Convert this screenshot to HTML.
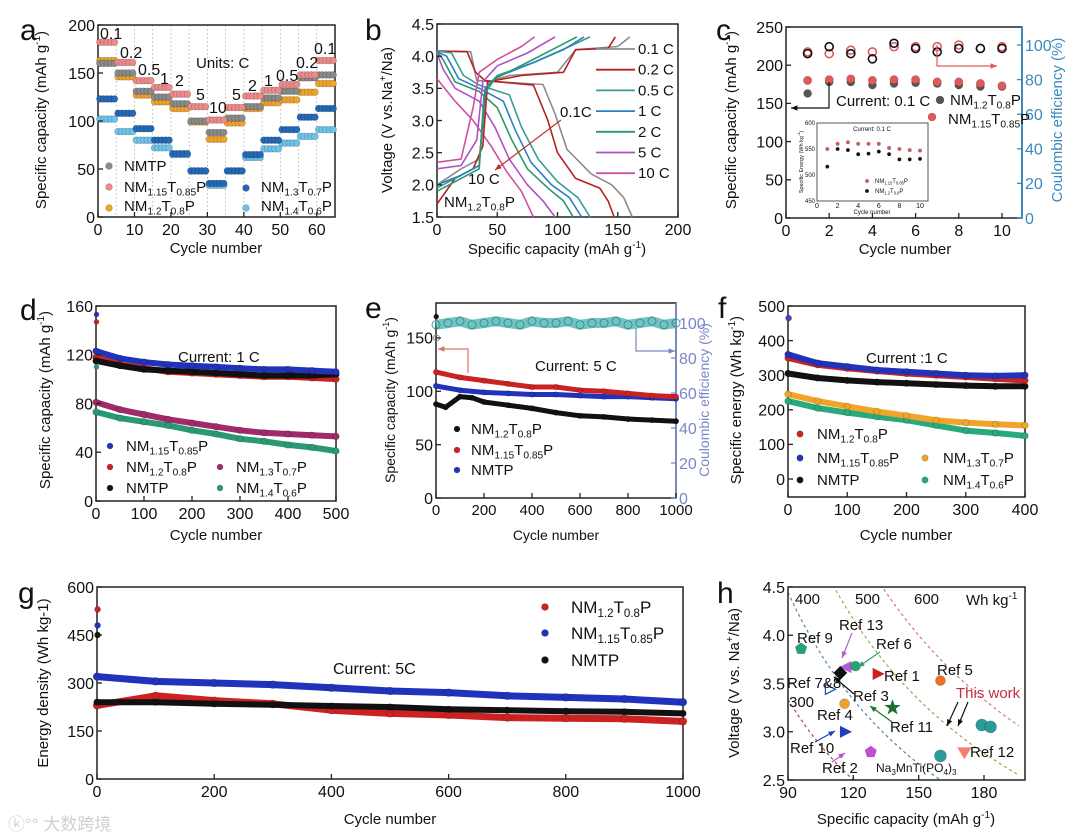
<!DOCTYPE html>
<html><head><meta charset="utf-8">
<style>
html,body{margin:0;padding:0;background:#fff;}
svg{display:block;font-family:"Liberation Sans","Noto Sans CJK SC",sans-serif;}
</style></head>
<body>
<svg id="fig" width="1080" height="836" viewBox="0 0 1080 836" xmlns="http://www.w3.org/2000/svg"></svg>
<script>
// ---------- Panel a data (rate capability) ----------
const aRates = ['0.1','0.2','0.5','1','2','5','10','5','2','1','0.5','0.2','0.1'];
const aNM115 = [182,161,142,135,128,115,101,114,126,132,138,148,163];
const aNMTP  = [160,150,131,125,118,100,88,103,115,124,131,145,148];
const aNM12  = [163,146,127,120,113,99,81,98,113,119,122,130,139];
const aNM13  = [123,108,92,80,66,48,35,48,65,80,91,104,113];
const aNM14  = [102,89,80,72,65,48,33,48,62,71,77,84,91];
const aXTicks = [0,10,20,30,40,50,60];
const aYTicks = [0,50,100,150,200];
// ---------- Panel b data (charge/discharge) ----------
const bRates = ['0.1 C','0.2 C','0.5 C','1 C','2 C','5 C','10 C'];
const bDis = [
 [[0,4.08],[28,4.07],[33,3.62],[88,3.56],[98,3.1],[108,2.55],[128,2.17],[145,2.0],[155,1.8],[162,1.5]],
 [[0,4.08],[25,4.07],[32,3.75],[40,3.62],[80,3.55],[92,3.0],[100,2.5],[115,2.1],[135,1.95],[142,1.75],[147,1.5]],
 [[0,4.08],[12,4.05],[22,3.7],[35,3.55],[60,3.4],[70,2.9],[84,2.4],[100,2.05],[117,1.8],[127,1.5]],
 [[0,4.07],[8,4.0],[18,3.65],[35,3.5],[55,3.3],[65,2.85],[78,2.35],[95,2.0],[110,1.8],[120,1.5]],
 [[0,4.07],[5,3.95],[15,3.6],[35,3.45],[50,3.2],[62,2.7],[75,2.25],[92,1.95],[105,1.75],[113,1.5]],
 [[0,4.05],[5,3.8],[15,3.5],[35,3.3],[48,2.9],[60,2.4],[75,2.0],[88,1.75],[98,1.5]],
 [[0,3.65],[15,3.3],[30,3.0],[45,2.6],[58,2.2],[70,1.9],[80,1.5]]
];
const bChg = [
 [[0,2.0],[20,2.25],[35,2.4],[42,3.6],[60,3.7],[100,3.75],[115,4.1],[150,4.15],[160,4.3]],
 [[0,1.7],[15,2.1],[30,2.25],[38,2.6],[42,3.6],[70,3.7],[105,3.75],[115,4.1],[142,4.12],[148,4.3]],
 [[0,1.95],[20,2.15],[35,2.3],[40,3.5],[50,3.7],[80,3.9],[110,4.15],[127,4.3]],
 [[0,2.0],[20,2.15],[35,2.3],[40,3.5],[50,3.68],[80,3.9],[105,4.1],[122,4.3]],
 [[0,1.9],[20,2.1],[35,2.25],[39,3.4],[48,3.65],[80,3.95],[116,4.3]],
 [[0,2.25],[20,2.3],[33,2.7],[38,3.6],[50,3.85],[75,4.05],[98,4.3]],
 [[0,2.35],[20,2.4],[30,3.2],[35,3.75],[50,3.95],[70,4.15],[81,4.3]]
];
const bXTicks = [0,50,100,150,200];
const bYTicks = [1.5,2.0,2.5,3.0,3.5,4.0,4.5];
// ---------- Panel c data ----------
const cCycles = [1,2,3,4,5,6,7,8,9,10];
const cCap12  = [163,178,178,174,176,177,176,174,172,172];
const cCap115 = [180,181,182,180,181,181,178,178,176,173];
const cCE12   = [95,99,95,92,101,98,96,98,98,98];
const cCE115  = [96,95,97,96,99,99,99,100,98,99];
const cIns115 = [550,560,563,560,560,560,552,550,548,547];
const cIns12  = [516,550,548,540,541,545,540,530,530,531];
const cXTicks = [0,2,4,6,8,10];
const cYTicks = [0,50,100,150,200,250];
const cY2Ticks = [0,20,40,60,80,100];
// ---------- Panel d data ----------
const dCycles = [0,50,100,150,200,250,300,350,400,450,500];
const dNM115 = [123,117,114,112,111,110,109,108,108,107,106];
const dNM12  = [118,112,109,106,105,104,103,102,102,101,100];
const dNMTP  = [115,111,108,107,106,105,104,103,103,103,104];
const dNM13  = [81,75,71,67,64,61,58,56,55,54,53];
const dNM14  = [73,68,65,62,58,55,51,49,46,44,41];
const dXTicks = [0,100,200,300,400,500];
const dYTicks = [0,40,80,120,160];
// ---------- Panel e data ----------
const eCycles = [0,100,200,300,400,500,600,700,800,900,1000];
const eNM115 = [118,113,110,107,104,104,101,100,98,96,95];
const eNMTP  = [105,101,99,98,97,97,96,95,95,94,93];
const eBlkCycles = [0,40,100,150,200,300,400,500,600,700,800,900,1000];
const eNM12  = [88,85,95,94,90,87,84,80,77,76,74,73,72];
const eCECycles = [0,50,100,150,200,250,300,350,400,450,500,550,600,650,700,750,800,850,900,950,1000];
const eCE = [99,100,101,99,100,101,100,99,101,100,100,101,99,100,100,101,99,100,101,99,100];
const eXTicks = [0,200,400,600,800,1000];
const eYTicks = [0,50,100,150];
const eY2Ticks = [0,20,40,60,80,100];
// ---------- Panel f data ----------
const fCycles = [0,50,100,150,200,250,300,350,400];
const fNM115 = [360,335,325,315,310,305,300,298,300];
const fNM12  = [350,330,320,312,305,300,295,290,285];
const fNMTP  = [305,292,285,280,277,273,270,268,268];
const fNM13  = [245,225,210,195,183,170,163,158,155];
const fNM14  = [225,205,192,180,170,155,140,133,125];
const fXTicks = [0,100,200,300,400];
const fYTicks = [0,100,200,300,400,500];
// ---------- Panel g data ----------
const gCycles = [0,100,200,300,400,500,600,700,800,900,1000];
const gNM115 = [320,305,300,295,285,275,270,260,255,250,240];
const gNMTP  = [240,240,235,232,228,225,218,215,212,210,205];
const gNM12  = [230,260,245,235,215,205,200,192,190,188,180];
const gXTicks = [0,200,400,600,800,1000];
const gYTicks = [0,150,300,450,600];
// ---------- Panel h data ----------
const hRefs = ['Ref 9','Ref 13','Ref 6','Ref 7&8','Ref 3','Ref 1','Ref 5','Ref 4','Ref 11','Ref 10','Ref 2','Na3MnTi(PO4)3','Ref 12','This work','This work'];
const hCap  = [96,117,121,109,114,131,160,116,138,116,128,160,171,179,183];
const hVolt = [3.86,3.67,3.68,3.44,3.61,3.6,3.53,3.29,3.25,3.0,2.79,2.75,2.79,3.07,3.05];
const hEnergies = [300,400,500,600];
const hXTicks = [90,120,150,180];
const hYTicks = [2.5,3.0,3.5,4.0,4.5];

const NS='http://www.w3.org/2000/svg';
const svg=document.getElementById('fig');
function mk(tag,attrs,name,text){
  const el=document.createElementNS(NS,tag);
  for(const k in attrs) el.setAttribute(k,attrs[k]);
  
  
  if(text!=null) el.textContent=text;
  svg.appendChild(el);
  return el;
}
function sub(s){
  return s.replace(/_\{([^}]*)\}/g,'<tspan font-size="0.68em" dy="0.35em">$1</tspan><tspan font-size="0.68em" dy="-0.35em">\u200b</tspan>');
}
function chem(x,y,s,size,name,fill){
  const t=mk('text',{x:x,y:y,'font-size':size,fill:fill||'#111'},name);
  t.innerHTML=sub(s); return t;
}
function txt(x,y,s,size,name,extra){
  const a={x:x,y:y,'font-size':size,fill:'#111'};
  if(extra) for(const k in extra) a[k]=extra[k];
  return mk('text',a,name,s);
}
function frame(x0,y0,x1,y1,name,rightColor){
  mk('rect',{x:x0,y:y0,width:x1-x0,height:y1-y0,fill:'none',stroke:'#222','stroke-width':1.5},name);
  if(rightColor) mk('line',{x1:x1,y1:y0,x2:x1,y2:y1,stroke:rightColor,'stroke-width':1.8},name+'-right-axis');
}
function xAxis(ticks,X,yb,size,name,fmt){
  ticks.forEach(v=>{
    mk('line',{x1:X(v),y1:yb,x2:X(v),y2:yb-5,stroke:'#222','stroke-width':1.3},name+'-tick');
    txt(X(v),yb+size+2,fmt?fmt(v):String(v),size,name+'-label',{'text-anchor':'middle'});
  });
}
function yAxis(ticks,Y,xl,size,name,fmt){
  ticks.forEach(v=>{
    mk('line',{x1:xl,y1:Y(v),x2:xl+5,y2:Y(v),stroke:'#222','stroke-width':1.3},name+'-tick');
    txt(xl-3,Y(v)+size*0.36,fmt?fmt(v):String(v),size,name+'-label',{'text-anchor':'end'});
  });
}
function y2Axis(ticks,Y,xr,size,name,color){
  ticks.forEach(v=>{
    mk('line',{x1:xr,y1:Y(v),x2:xr-5,y2:Y(v),stroke:color,'stroke-width':1.3},name+'-tick');
    txt(xr+3,Y(v)+size*0.36,String(v),size,name+'-label',{fill:color});
  });
}
function vtitle(x,y,s,size,name,fill){
  const t=mk('text',{x:0,y:0,'font-size':size,fill:fill||'#111','text-anchor':'middle',transform:`translate(${x},${y}) rotate(-90)`},name);
  t.innerHTML=s; return t;
}
function ball(x,y,r,color,name){
  mk('circle',{cx:x,cy:y,r:r,fill:color,stroke:'rgba(0,0,0,0.25)','stroke-width':0.6},name);
}
function dense(xs,ys,X,Y,color,w,name){
  const pts=xs.map((c,i)=>X(c).toFixed(1)+','+Y(ys[i]).toFixed(1)).join(' ');
  mk('polyline',{points:pts,fill:'none',stroke:color,'stroke-width':w,'stroke-linejoin':'round','stroke-linecap':'round'},name);
  xs.forEach((c,i)=>ball(X(c),Y(ys[i]),w*0.55,color,name+'-point'));
}
function poly(arr,X,Y,color,name,w){
  const pts=arr.map(p=>X(p[0]).toFixed(1)+','+Y(p[1]).toFixed(1)).join(' ');
  mk('polyline',{points:pts,fill:'none',stroke:color,'stroke-width':w||1.6,'stroke-linejoin':'round'},name);
}
function arrow(pts,color,name){
  mk('polyline',{points:pts.map(p=>p.join(',')).join(' '),fill:'none',stroke:color,'stroke-width':1.2},name);
  const n=pts.length,a=pts[n-2],b=pts[n-1];
  const ang=Math.atan2(b[1]-a[1],b[0]-a[0]);
  const p1=[b[0]-7*Math.cos(ang-0.4),b[1]-7*Math.sin(ang-0.4)],p2=[b[0]-7*Math.cos(ang+0.4),b[1]-7*Math.sin(ang+0.4)];
  mk('polygon',{points:[b,p1,p2].map(p=>p.join(',')).join(' '),fill:color},name+'-head');
}
const TS=16, TT=15;

// ================= Panel a =================
(function(){
  const X=c=>98+c*(335-98)/65, Y=v=>217-v*(192/200);
  for(let k=1;k<13;k++) mk('line',{x1:X(k*5),y1:25,x2:X(k*5),y2:217,stroke:'#aaa','stroke-width':0.8,'stroke-dasharray':'1.5,2.5'},'a-divider');
  frame(98,25,335,217,'a-plot-frame');
  const series=[[aNM14,'#6ec3ea','a-nm14'],[aNM13,'#2369b8','a-nm13'],[aNM12,'#f0a52a','a-nm12'],[aNMTP,'#8a8a8a','a-nmtp'],[aNM115,'#ef8a8a','a-nm115']];
  series.forEach(s=>{
    s[0].forEach((v,seg)=>{ for(let j=1;j<=5;j++){ ball(X(seg*5+j-0.5),Y(v),3.4,s[1],s[2]+'-marker'); } });
  });
  xAxis(aXTicks,X,217,TS,'a-x-tick'); yAxis(aYTicks,Y,98,TS,'a-y-tick');
  const lab=[[100,33],[120,52],[138,69],[160,78],[175,80],[196,94],[209,107],[232,94],[248,85],[264,80],[276,75],[296,62],[314,48]];
  aRates.forEach((r,i)=>txt(lab[i][0],lab[i][1]+6,r,16,'a-rate-label'));
  txt(196,68,'Units: C',15,'a-units-note');
  txt(216,253,'Cycle number',TT,'a-x-title',{'text-anchor':'middle'});
  vtitle(46,120,'Specific capacity (mAh g<tspan font-size="10" dy="-6">-1</tspan><tspan dy="6">)</tspan>',TT,'a-y-title');
  txt(20,40,'a',30,'a-panel-letter');
  ball(109,166,3.4,'#8a8a8a','a-legend-marker'); txt(124,171,'NMTP',15,'a-legend-nmtp');
  ball(109,187,3.4,'#ef8a8a','a-legend-marker'); chem(124,192,'NM_{1.15}T_{0.85}P',15,'a-legend-nm115');
  ball(109,208,3.4,'#f0a52a','a-legend-marker'); chem(124,211,'NM_{1.2}T_{0.8}P',15,'a-legend-nm12');
  ball(246,188,3.4,'#2369b8','a-legend-marker'); chem(261,192,'NM_{1.3}T_{0.7}P',15,'a-legend-nm13');
  ball(246,208,3.4,'#6ec3ea','a-legend-marker'); chem(261,211,'NM_{1.4}T_{0.6}P',15,'a-legend-nm14');
})();

// ================= Panel b =================
(function(){
  const X=c=>437+c*(241/200), Y=v=>217-(v-1.5)*(193/3);
  const cols=['#8c8c8c','#b52020','#3a9a9a','#2f7fbf','#2a9a6a','#b050c8','#d050a0'];
  frame(437,24,678,217,'b-plot-frame');
  bDis.forEach((c,i)=>poly(c,X,Y,cols[i],'b-discharge-curve'));
  bChg.forEach((c,i)=>poly(c,X,Y,cols[i],'b-charge-curve'));
  xAxis(bXTicks,X,217,TS,'b-x-tick'); yAxis(bYTicks,Y,437,TS,'b-y-tick',v=>v.toFixed(1));
  bRates.forEach((r,i)=>{const y=49+i*20.7;
    mk('line',{x1:596,y1:y,x2:635,y2:y,stroke:cols[i],'stroke-width':1.8},'b-legend-line');
    txt(638,y+5,r,15,'b-legend-label');});
  arrow([[561,120],[495,170]],'#c03030','b-rate-arrow');
  txt(560,117,'0.1C',15,'b-annot-01c'); txt(468,184,'10 C',15,'b-annot-10c');
  chem(444,207,'NM_{1.2}T_{0.8}P',15,'b-sample-label');
  txt(557,254,'',TT,'b-x-title',{'text-anchor':'middle'}).innerHTML='Specific capacity (mAh g<tspan font-size="10" dy="-6">-1</tspan><tspan dy="6">)</tspan>';
  vtitle(392,120,'Voltage (V vs.Na<tspan font-size="10" dy="-6">+</tspan><tspan dy="6">/Na)</tspan>',TT,'b-y-title');
  txt(365,40,'b',30,'b-panel-letter');
})();

// ================= Panel c =================
(function(){
  const X=c=>786+c*21.6, Y=v=>218-v*(191/250), Y2=p=>218-p*1.73;
  frame(786,27,1022,218,'c-plot-frame','#3a8ac0');
  cCycles.forEach((c,i)=>{
    mk('circle',{cx:X(c),cy:Y2(cCE115[i]),r:4,fill:'none',stroke:'#e05a5a','stroke-width':1.6},'c-ce-nm115');
    mk('circle',{cx:X(c),cy:Y2(cCE12[i]),r:4,fill:'none',stroke:'#111','stroke-width':1.6},'c-ce-nm12');
    ball(X(c),Y(cCap12[i]),4,'#555','c-cap-nm12');
    ball(X(c),Y(cCap115[i]),4.2,'#e05a5a','c-cap-nm115');
  });
  xAxis(cXTicks,X,218,TS,'c-x-tick'); yAxis(cYTicks,Y,786,TS,'c-y-tick');
  y2Axis(cY2Ticks,Y2,1022,TS,'c-y2-tick','#3a8ac0');
  arrow([[829,82],[829,108],[791,108]],'#111','c-left-axis-arrow');
  arrow([[937,45],[937,66],[997,66]],'#e05a5a','c-right-axis-arrow');
  txt(836,106,'Current: 0.1 C',15,'c-current-note');
  ball(940,100,4,'#555','c-legend-marker'); chem(950,105,'NM_{1.2}T_{0.8}P',15,'c-legend-nm12');
  ball(932,117,4,'#e05a5a','c-legend-marker'); chem(948,124,'NM_{1.15}T_{0.85}P',15,'c-legend-nm115');
  const IX=c=>817+c*10.3, IY=v=>201-(v-450)*(78/150);
  mk('rect',{x:817,y:123,width:111,height:78,fill:'#fff',stroke:'#555','stroke-width':1},'c-inset-frame');
  cCycles.forEach((c,i)=>{ ball(IX(c),IY(cIns115[i]),1.8,'#e05a5a','c-inset-nm115'); ball(IX(c),IY(cIns12[i]),1.8,'#111','c-inset-nm12'); });
  [0,2,4,6,8,10].forEach(v=>txt(IX(v),208,String(v),7,'c-inset-x-label',{'text-anchor':'middle'}));
  [450,500,550,600].forEach(v=>txt(815,IY(v)+2,String(v),6,'c-inset-y-label',{'text-anchor':'end'}));
  txt(872,131,'Current: 0.1 C',6,'c-inset-note',{'text-anchor':'middle'});
  txt(872,214,'Cycle number',6,'c-inset-x-title',{'text-anchor':'middle'});
  vtitle(803,162,'Specific Energy (Wh kg<tspan font-size="4" dy="-3">-1</tspan><tspan dy="3">)</tspan>',5.5,'c-inset-y-title');
  ball(867,181,1.8,'#e05a5a','c-inset-legend'); chem(875,183,'NM_{1.15}T_{0.85}P',6,'c-inset-legend-nm115');
  ball(867,191,1.8,'#111','c-inset-legend'); chem(875,193,'NM_{1.2}T_{0.8}P',6,'c-inset-legend-nm12');
  txt(905,254,'Cycle number',TT,'c-x-title',{'text-anchor':'middle'});
  vtitle(736,120,'Specific capacity (mAh g<tspan font-size="10" dy="-6">-1</tspan><tspan dy="6">)</tspan>',TT,'c-y-title');
  vtitle(1062,120,'Coulombic efficiency (%)',TT,'c-y2-title','#3a8ac0');
  txt(716,40,'c',30,'c-panel-letter');
})();

// ================= Panel d =================
(function(){
  const X=c=>96+c*0.48, Y=v=>501-v*(195/160);
  frame(96,306,336,501,'d-plot-frame');
  dense(dCycles,dNM14,X,Y,'#2a9a72',6,'d-nm14');
  dense(dCycles,dNM13,X,Y,'#a02a6a',6,'d-nm13');
  dense(dCycles,dNM12,X,Y,'#cc2222',6,'d-nm12');
  dense(dCycles,dNMTP,X,Y,'#111',6,'d-nmtp');
  dense(dCycles,dNM115,X,Y,'#2233bb',6,'d-nm115');
  ball(X(1),Y(153),2.5,'#2233bb','d-first-point'); ball(X(1),Y(147),2.5,'#cc2222','d-first-point'); ball(X(1),Y(110),2.5,'#2a9a72','d-first-point');
  xAxis(dXTicks,X,501,TS,'d-x-tick'); yAxis(dYTicks,Y,96,TS,'d-y-tick');
  txt(178,362,'Current: 1 C',15,'d-current-note');
  ball(110,446,3,'#2233bb','d-legend-marker'); chem(126,451,'NM_{1.15}T_{0.85}P',15,'d-legend-nm115');
  ball(110,467,3,'#cc2222','d-legend-marker'); chem(126,472,'NM_{1.2}T_{0.8}P',15,'d-legend-nm12');
  ball(110,488,3,'#111','d-legend-marker'); txt(126,493,'NMTP',15,'d-legend-nmtp');
  ball(220,467,3,'#a02a6a','d-legend-marker'); chem(236,472,'NM_{1.3}T_{0.7}P',15,'d-legend-nm13');
  ball(220,488,3,'#2a9a72','d-legend-marker'); chem(236,493,'NM_{1.4}T_{0.6}P',15,'d-legend-nm14');
  txt(216,540,'Cycle number',TT,'d-x-title',{'text-anchor':'middle'});
  vtitle(50,400,'Specific capacity (mAh g<tspan font-size="10" dy="-6">-1</tspan><tspan dy="6">)</tspan>',TT,'d-y-title');
  txt(20,320,'d',30,'d-panel-letter');
})();

// ================= Panel e =================
(function(){
  const X=c=>436+c*0.24, Y=v=>498-v*1.067, Y2=p=>498-p*1.75;
  const rc='#7a86c8';
  frame(436,303,676,498,'e-plot-frame',rc);
  const cePts=eCECycles.map((c,i)=>X(c).toFixed(1)+','+Y2(eCE[i]).toFixed(1)).join(' ');
  mk('polyline',{points:cePts,fill:'none',stroke:'#5ab8b8','stroke-width':10,opacity:0.85},'e-ce-band');
  eCECycles.forEach((c,i)=>mk('circle',{cx:X(c),cy:Y2(eCE[i]),r:4,fill:'none',stroke:'#2a8a8a','stroke-width':0.8},'e-ce-marker'));
  dense(eBlkCycles,eNM12,X,Y,'#111',5,'e-nm12');
  dense(eCycles,eNMTP,X,Y,'#2233bb',5,'e-nmtp');
  dense(eCycles,eNM115,X,Y,'#cc2222',5,'e-nm115');
  ball(X(1),Y(170),2.5,'#111','e-first-point');
  mk('circle',{cx:X(2),cy:Y(150),r:3,fill:'none',stroke:'#888'},'e-first-ce');
  xAxis(eXTicks,X,498,TS-1,'e-x-tick'); yAxis(eYTicks,Y,436,TS,'e-y-tick');
  y2Axis(eY2Ticks,Y2,676,TS,'e-y2-tick',rc);
  arrow([[468,373],[468,349],[438,349]],'#e07070','e-left-axis-arrow');
  arrow([[636,328],[636,351],[675,351]],rc,'e-right-axis-arrow');
  txt(535,371,'Current: 5 C',15,'e-current-note');
  ball(457,429,3,'#111','e-legend-marker'); chem(471,434,'NM_{1.2}T_{0.8}P',15,'e-legend-nm12');
  ball(457,450,3,'#cc2222','e-legend-marker'); chem(471,455,'NM_{1.15}T_{0.85}P',15,'e-legend-nm115');
  ball(457,470,3,'#2233bb','e-legend-marker'); txt(471,475,'NMTP',15,'e-legend-nmtp');
  txt(556,540,'Cycle number',14,'e-x-title',{'text-anchor':'middle'});
  vtitle(395,400,'Specific capacity (mAh g<tspan font-size="9" dy="-6">-1</tspan><tspan dy="6">)</tspan>',14,'e-y-title');
  vtitle(709,400,'Coulombic efficiency (%)',14,'e-y2-title',rc);
  txt(365,318,'e',30,'e-panel-letter');
})();

// ================= Panel f =================
(function(){
  const X=c=>788+c*(237/400), Y=v=>479-v*0.346;
  frame(788,306,1025,497,'f-plot-frame');
  dense(fCycles,fNM14,X,Y,'#2aaa7a',6,'f-nm14');
  dense(fCycles,fNM13,X,Y,'#f0a52a',6,'f-nm13');
  dense(fCycles,fNMTP,X,Y,'#111',6,'f-nmtp');
  dense(fCycles,fNM12,X,Y,'#cc2222',6,'f-nm12');
  dense(fCycles,fNM115,X,Y,'#2233bb',6,'f-nm115');
  ball(X(1),Y(465),3,'#5040b0','f-first-point');
  xAxis(fXTicks,X,497,TS,'f-x-tick'); yAxis(fYTicks,Y,788,TS,'f-y-tick');
  txt(866,363,'Current :1 C',15,'f-current-note');
  ball(800,434,3.2,'#cc2222','f-legend-marker'); chem(817,439,'NM_{1.2}T_{0.8}P',15,'f-legend-nm12');
  ball(800,458,3.2,'#2233bb','f-legend-marker'); chem(817,463,'NM_{1.15}T_{0.85}P',15,'f-legend-nm115');
  ball(800,480,3.2,'#111','f-legend-marker'); txt(817,485,'NMTP',15,'f-legend-nmtp');
  ball(925,458,3.2,'#f0a52a','f-legend-marker'); chem(943,463,'NM_{1.3}T_{0.7}P',15,'f-legend-nm13');
  ball(925,480,3.2,'#2aaa7a','f-legend-marker'); chem(943,485,'NM_{1.4}T_{0.6}P',15,'f-legend-nm14');
  txt(906,540,'Cycle number',TT,'f-x-title',{'text-anchor':'middle'});
  vtitle(741,400,'Specific energy (Wh kg<tspan font-size="10" dy="-6">-1</tspan><tspan dy="6">)</tspan>',TT,'f-y-title');
  txt(718,318,'f',30,'f-panel-letter');
})();

// ================= Panel g =================
(function(){
  const X=c=>97+c*0.586, Y=v=>779-v*(192/600);
  frame(97,587,683,779,'g-plot-frame');
  dense(gCycles,gNM12,X,Y,'#cc2222',7,'g-nm12');
  dense(gCycles,gNMTP,X,Y,'#111',6,'g-nmtp');
  dense(gCycles,gNM115,X,Y,'#2233bb',7,'g-nm115');
  ball(X(1),Y(530),3,'#cc2222','g-first-point'); ball(X(1),Y(480),3,'#2233bb','g-first-point'); ball(X(1),Y(450),3,'#111','g-first-point');
  xAxis(gXTicks,X,779,TS,'g-x-tick'); yAxis(gYTicks,Y,97,TS,'g-y-tick');
  txt(333,674,'Current: 5C',16,'g-current-note');
  ball(545,607,3.5,'#cc2222','g-legend-marker'); chem(571,613,'NM_{1.2}T_{0.8}P',17,'g-legend-nm12');
  ball(545,633,3.5,'#2233bb','g-legend-marker'); chem(571,639,'NM_{1.15}T_{0.85}P',17,'g-legend-nm115');
  ball(545,660,3.5,'#111','g-legend-marker'); txt(571,666,'NMTP',17,'g-legend-nmtp');
  txt(390,824,'Cycle number',TT,'g-x-title',{'text-anchor':'middle'});
  vtitle(48,683,'Energy density (Wh kg-1)',TT,'g-y-title');
  txt(18,603,'g',30,'g-panel-letter');
  txt(8,830,'\u24DA\u00B0\u00B0 大数跨境',17,'watermark',{fill:'#d0d0d0'});
})();

// ================= Panel h =================
(function(){
  const X=c=>788+(c-90)*(196/90), Y=v=>780-(v-2.5)*(193/2);
  const ec=['#a05050','#4a86a8','#a8a040','#d87090'];
  hEnergies.forEach((E,i)=>{
    const pts=[]; for(let c=90;c<=197;c+=2){const v=E/c; if(v<=4.5&&v>=2.5) pts.push(X(c).toFixed(1)+','+Y(v).toFixed(1));}
    mk('polyline',{points:pts.join(' '),fill:'none',stroke:ec[i],'stroke-width':1.2,'stroke-dasharray':'3,3'},'h-iso-energy-'+E);
  });
  frame(788,587,1025,780,'h-plot-frame');
  const mc=['#2aa07a','#b060d0','#2aa07a','#2050b0','#111','#cc2020','#f07020','#f0a030','#207030','#2040c0','#c050d0','#2a9a9a','#f08070','#2a9a9a','#2a9a9a'];
  const shape=['pent','triL','circ','triR','dia','triR','circ','circ','star','triR','pent','circ','triD','circ','circ'];
  hRefs.forEach((r,i)=>{
    const x=X(hCap[i]),y=Y(hVolt[i]),c=mc[i],s=shape[i];
    let p;
    if(s==='circ') {ball(x,y,i>=11?6:5,c,'h-point-'+i);return;}
    if(s==='pent') p=[0,1,2,3,4].map(k=>[x+5.5*Math.sin(k*1.2566),y-5.5*Math.cos(k*1.2566)]);
    if(s==='triR') p=[[x+6,y],[x-4,y-5],[x-4,y+5]];
    if(s==='triL') p=[[x-6,y],[x+4,y-5],[x+4,y+5]];
    if(s==='triD') p=[[x,y+6],[x-6,y-4],[x+6,y-4]];
    if(s==='dia') p=[[x,y-6],[x+6,y],[x,y+6],[x-6,y]];
    if(s==='star') p=[...Array(10)].map((_,k)=>{const rr=k%2?2.6:6.5;return [x+rr*Math.sin(k*0.628),y-rr*Math.cos(k*0.628)];});
    mk('polygon',{points:p.map(q=>q.map(n=>n.toFixed(1)).join(',')).join(' '),fill:(i===3?'#fff':c),stroke:c,'stroke-width':1.3},'h-point-'+i);
  });
  const lp=[[797,643],[839,630],[876,649],[787,688],[853,701],[884,681],[937,675],[817,720],[890,732],[790,753],[822,773],null,[970,757],[956,698],null];
  hRefs.forEach((r,i)=>{ if(!lp[i]) return;
    txt(lp[i][0],lp[i][1],r,15,'h-label-'+i,i===13?{fill:'#c03040'}:null); });
  chem(876,772,'Na_{3}MnTi(PO_{4})_{3}',12,'h-label-nmtp');
  arrow([[852,633],[842,658]],'#b060d0','h-arrow-ref13');
  arrow([[880,652],[858,667]],'#2aa07a','h-arrow-ref6');
  arrow([[854,694],[834,677]],'#111','h-arrow-ref3');
  arrow([[892,722],[870,706]],'#207030','h-arrow-ref11');
  arrow([[815,742],[835,731]],'#2040c0','h-arrow-ref10');
  arrow([[832,762],[845,753]],'#c050d0','h-arrow-ref2');
  arrow([[958,702],[947,726]],'#111','h-arrow-thiswork');
  arrow([[968,702],[958,726]],'#111','h-arrow-thiswork');
  txt(795,604,'400',15,'h-iso-label'); txt(855,604,'500',15,'h-iso-label'); txt(914,604,'600',15,'h-iso-label'); txt(789,707,'300',15,'h-iso-label');
  txt(966,605,'',15,'h-unit-label').innerHTML='Wh kg<tspan font-size="10" dy="-6">-1</tspan>';
  xAxis(hXTicks,X,780,TS,'h-x-tick'); yAxis(hYTicks,Y,788,TS,'h-y-tick',v=>v.toFixed(1));
  txt(906,824,'',TT,'h-x-title',{'text-anchor':'middle'}).innerHTML='Specific capacity (mAh g<tspan font-size="10" dy="-6">-1</tspan><tspan dy="6">)</tspan>';
  vtitle(739,683,'Voltage (V vs. Na<tspan font-size="10" dy="-6">+</tspan><tspan dy="6">/Na)</tspan>',TT,'h-y-title');
  txt(717,603,'h',30,'h-panel-letter');
})();
</script>
</body></html>
